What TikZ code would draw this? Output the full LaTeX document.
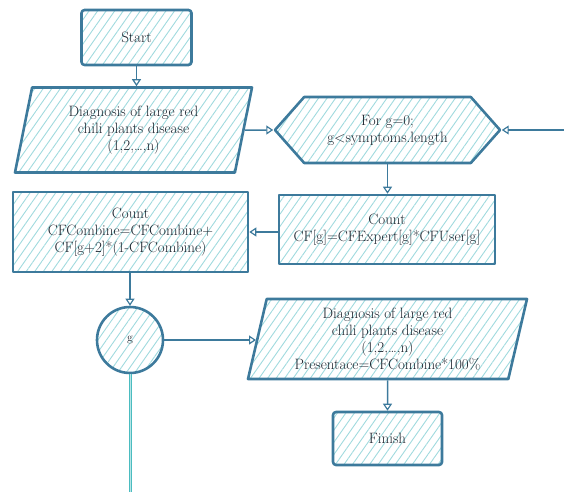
\documentclass[tikz,border=0pt]{standalone}
\usetikzlibrary{shapes.geometric,shapes.symbols,patterns.meta,arrows.meta}
\definecolor{strokec}{HTML}{3D7A9C}
\definecolor{hatchc}{HTML}{A0DADE}
\definecolor{tealc}{HTML}{4BBCC0}
\definecolor{textc}{HTML}{1E2630}
\tikzset{
  shapebox/.style={draw=strokec, line width=2.6pt, line join=round,
    pattern={Lines[angle=55,distance=7pt,line width=0.9pt]}, pattern color=hatchc,
    text=textc, align=center, inner sep=0pt, font=\fontsize{15}{17}\selectfont},
  conn/.style={draw=strokec, line width=1.5pt, -{Triangle[open,length=7pt,width=9pt,line width=1.2pt]}},
  termbox/.style={shapebox, rectangle, rounded corners=3pt},
  procbox/.style={shapebox, rectangle},
  iobox/.style={shapebox, trapezium, trapezium stretches body, trapezium left angle=#1, trapezium right angle=180-#1},
  loopbox/.style={shapebox, signal, signal to=east and west, signal pointer angle=97},
  connbox/.style={shapebox, circle}
}
\begin{document}
\begin{tikzpicture}[x=1pt,y=-1pt]
\useasboundingbox (0,0) rectangle (564,492);
\node[termbox, minimum width=110pt, minimum height=55pt] (start) at (136.5,37.5) {Start};
\node[iobox=70.5, minimum width=237pt, minimum height=85pt] (in) at (133.5,130)
  {Diagnosis of large red\\chili plants disease\\(1,2,\dots,n)};
\node[loopbox, minimum width=225pt, minimum height=66pt] (loop) at (387.5,130)
  {For g=0;\\g<symptoms.length};
\node[procbox, minimum width=216pt, minimum height=69pt] (cf) at (387,229.5)
  {Count\\CF[g]=CFExpert[g]*CFUser[g]};
\node[procbox, minimum width=235pt, minimum height=80pt] (comb) at (130.5,232)
  {Count\\CFCombine=CFCombine+\\CF[g+2]*(1-CFCombine)};
\node[connbox, minimum size=66pt, font=\fontsize{12}{14}\selectfont] (g) at (130,340) {g};
\node[iobox=73.3, minimum width=279pt, minimum height=80pt] (out) at (387.5,339)
  {Diagnosis of large red\\chili plants disease\\(1,2,\dots,n)\\Presentace=CFCombine*100\%};
\node[termbox, minimum width=109pt, minimum height=53pt] (finish) at (387.5,438.5) {Finish};
\coordinate (back) at (564,130);
\coordinate (down) at (130,492);
\draw[conn] (start.south) -- (start.south |- in.north);
\draw[conn] (in.east) -- (loop.west);
\draw[conn] (back) -- (loop.east);
\draw[conn] (loop.south) -- (loop.south |- cf.north);
\draw[conn] (comb.east -| cf.west) -- (comb.east);
\draw[conn] (comb.south -| g.north) -- (g.north);
\draw[conn] (g.east) -- (g.east -| out.west);
\draw[conn] (out.south) -- (finish.north);
\draw[tealc, line width=3pt] (g.south) -- (down);
\draw[tealc!40, line width=0.8pt] (g.south) -- (down);
\end{tikzpicture}
\end{document}
